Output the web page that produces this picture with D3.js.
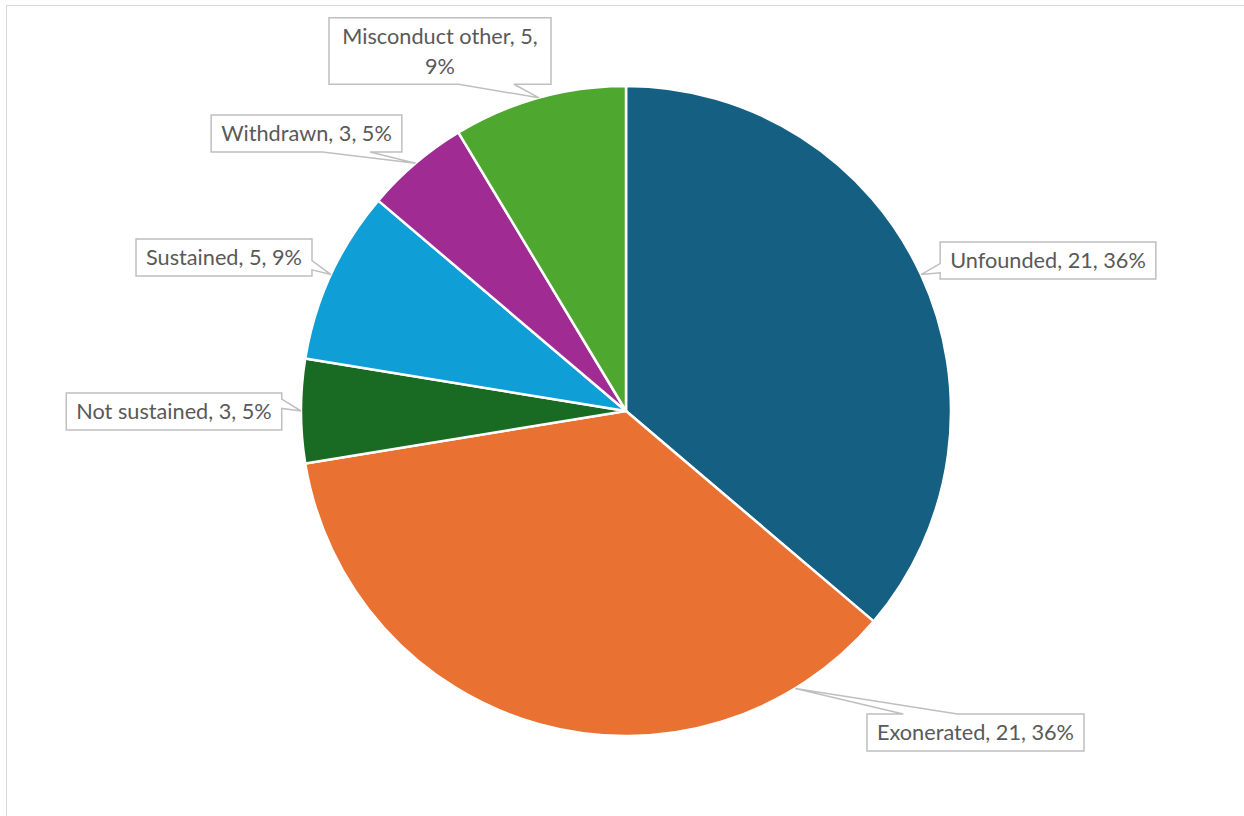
<!DOCTYPE html>
<html>
<head>
<meta charset="utf-8">
<script src="https://cdn.jsdelivr.net/npm/d3@7"></script>
<style>
  html, body { margin: 0; padding: 0; background: #fff; }
  svg { display: block; }
</style>
</head>
<body>
<svg id="chart" width="1244" height="816"></svg>
<script>
// Outcome categories and counts, clockwise from 12 o'clock
const categories = ["Unfounded", "Exonerated", "Not sustained", "Sustained", "Withdrawn", "Misconduct other"];
const counts = [21, 21, 3, 5, 3, 5];
const colors = ["#156082", "#E97132", "#196B24", "#0F9ED5", "#A02B93", "#4EA72E"];

// Callout box centres and the angle (degrees, clockwise from top) where each tail meets the pie.
// null angle = slice mid-angle.
const labelCenters = [[1048, 260.5], [975.5, 732.5], [174, 411.5], [224, 257.5], [306.5, 133.5], [440, 51]];
const tailAngles = [null, 148.6, null, null, null, null];
const labelWidths = [null, null, null, null, null, 222];

const width = 1244, height = 816;
const cx = 626, cy = 411, radius = 325;

const svg = d3.select("#chart");

// Chart-area border
svg.append("rect")
  .attr("x", 6.5).attr("y", 5.5)
  .attr("width", width + 20).attr("height", height + 20)
  .attr("fill", "none").attr("stroke", "#D9D9D9").attr("stroke-width", 1);

const data = categories.map((c, i) => ({ name: c, value: counts[i], color: colors[i], i }));
const total = d3.sum(counts);

const pie = d3.pie().value(d => d.value).sort(null);
const arcs = pie(data);
const arc = d3.arc().innerRadius(0).outerRadius(radius);

const g = svg.append("g").attr("transform", `translate(${cx},${cy})`);
g.selectAll("path.slice")
  .data(arcs)
  .join("path")
  .attr("class", "slice")
  .attr("d", arc)
  .attr("fill", d => d.data.color)
  .attr("stroke", "#fff")
  .attr("stroke-width", 2.5)
  .attr("stroke-linejoin", "round");

// Callout labels
const fontFamily = "Lato, 'Open Sans', sans-serif";
const fontSize = 21.7;
const lineH = 29.5;
const padX = 10, boxH1 = 37;

const labels = svg.append("g");

arcs.forEach((a, i) => {
  const d = a.data;
  const pct = Math.round(d.value / total * 100);
  const full = `${d.name}, ${d.value}, ${pct}%`;

  const angDeg = tailAngles[i] != null ? tailAngles[i] : (a.startAngle + a.endAngle) / 2 * 180 / Math.PI;
  const ang = angDeg * Math.PI / 180;
  const ax = cx + radius * Math.sin(ang);
  const ay = cy - radius * Math.cos(ang);

  const [bcx, bcy] = labelCenters[i];
  const grp = labels.append("g");

  // measure text, wrap if a fixed box width is given
  const t = grp.append("text")
    .attr("font-family", fontFamily)
    .attr("font-size", fontSize)
    .attr("fill", "#595959")
    .attr("text-anchor", "middle");

  let lines = [full];
  let w;
  if (labelWidths[i]) {
    w = labelWidths[i];
    lines = [`${d.name}, ${d.value},`, `${pct}%`];
  }
  lines.forEach((ln, k) => {
    t.append("tspan").attr("x", bcx).attr("dy", k === 0 ? 0 : lineH).text(ln);
  });
  const bb = t.node().getBBox();
  if (!w) w = bb.width + padX * 2;
  const h = lines.length === 1 ? boxH1 : boxH1 + lineH;
  const x0 = bcx - w / 2, y0 = bcy - h / 2, x1 = x0 + w, y1 = y0 + h;
  // vertically centre the text block
  const firstBaseline = bcy - (lines.length - 1) * lineH / 2 + fontSize * 0.36;
  t.select("tspan").attr("y", firstBaseline);

  // wedge-rectangle callout path
  const dx = ax - bcx, dy = ay - bcy;
  let p;
  if (Math.abs(dx) * h > Math.abs(dy) * w) {
    // tail on a side edge
    const f = dy > 0 ? [7 / 12, 10 / 12] : [2 / 12, 5 / 12];
    const ya = y0 + h * f[0], yb = y0 + h * f[1];
    if (dx > 0) {
      p = `M${x0},${y0}L${x1},${y0}L${x1},${ya}L${ax},${ay}L${x1},${yb}L${x1},${y1}L${x0},${y1}Z`;
    } else {
      p = `M${x0},${y0}L${x1},${y0}L${x1},${y1}L${x0},${y1}L${x0},${yb}L${ax},${ay}L${x0},${ya}Z`;
    }
  } else {
    const f = dx > 0 ? [7 / 12, 10 / 12] : [2 / 12, 5 / 12];
    const xa = x0 + w * f[0], xb = x0 + w * f[1];
    if (dy > 0) {
      p = `M${x0},${y0}L${x1},${y0}L${x1},${y1}L${xb},${y1}L${ax},${ay}L${xa},${y1}L${x0},${y1}Z`;
    } else {
      p = `M${x0},${y0}L${xa},${y0}L${ax},${ay}L${xb},${y0}L${x1},${y0}L${x1},${y1}L${x0},${y1}Z`;
    }
  }
  grp.insert("path", "text")
    .attr("d", p)
    .attr("fill", "#fff")
    .attr("stroke", "#BFBFBF")
    .attr("stroke-width", 1.5)
    .attr("stroke-linejoin", "miter");
});
</script>
</body>
</html>
